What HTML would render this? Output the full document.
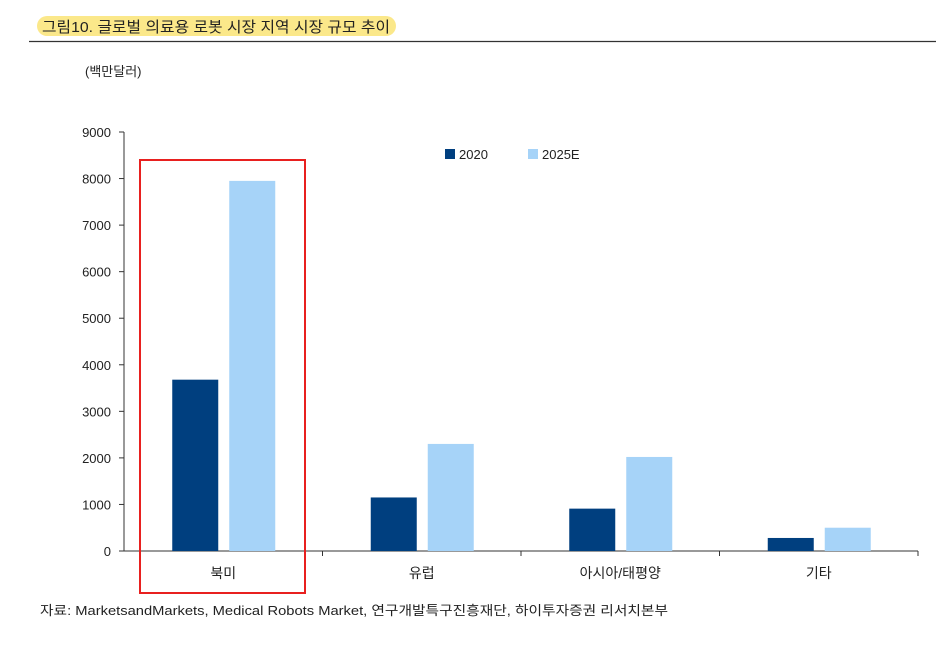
<!DOCTYPE html>
<html><head><meta charset="utf-8"><style>
body{margin:0;width:936px;height:646px;background:#fff;overflow:hidden;font-family:"Liberation Sans","Noto Sans CJK KR",sans-serif;}
</style></head><body>
<svg width="936" height="646" xmlns="http://www.w3.org/2000/svg" font-family="Liberation Sans, Noto Sans CJK KR, sans-serif">
<rect x="37" y="16" width="359" height="20" rx="10" fill="#fbe88a"/>
<text x="42" y="32" font-size="15" fill="#222" textLength="348" lengthAdjust="spacingAndGlyphs">그림10. 글로벌 의료용 로봇 시장 지역 시장 규모 추이</text>
<line x1="29" y1="41.5" x2="936" y2="41.5" stroke="#333" stroke-width="1.2"/>
<text x="85" y="76" font-size="13" fill="#222">(백만달러)</text>
<g id="axes"></g>
<g id="bars"></g>
<rect x="140" y="160" width="165" height="433" fill="none" stroke="#e8201f" stroke-width="2"/>
<rect x="445" y="149" width="10" height="10" fill="#003f7f"/>
<text x="459" y="159" font-size="13" fill="#222">2020</text>
<rect x="528" y="149" width="10" height="10" fill="#a6d3f8"/>
<text x="542" y="159" font-size="13" fill="#222">2025E</text>
<text x="40" y="615" font-size="13" fill="#222" textLength="628" lengthAdjust="spacingAndGlyphs">자료: MarketsandMarkets, Medical Robots Market, 연구개발특구진흥재단, 하이투자증권 리서치본부</text>
</svg>
<script>
const categories=["북미","유럽","아시아/태평양","기타"];
const series2020=[3680,1150,910,280];
const series2025=[7950,2300,2020,500];
const ticks=[0,1000,2000,3000,4000,5000,6000,7000,8000,9000];
const NS="http://www.w3.org/2000/svg";
const y0=551,yTop=132,maxV=9000,xL=124,xR=918;
const y=v=>y0-(v/maxV)*(y0-yTop);
const band=(xR-xL)/categories.length;
function mk(t,a,p){const e=document.createElementNS(NS,t);for(const k in a)e.setAttribute(k,a[k]);p.appendChild(e);return e;}
const ax=document.getElementById('axes'),bg=document.getElementById('bars');
let l=mk('line',{x1:xL,y1:yTop,x2:xL,y2:y0,stroke:'#333'},ax);


l=mk('line',{x1:xL,y1:y0,x2:xR,y2:y0,stroke:'#333'},ax);


ticks.forEach(t=>{
 const tk=mk('line',{x1:xL-5,y1:y(t),x2:xL,y2:y(t),stroke:'#333'},ax);
 
 
 const tx=mk('text',{x:xL-13,y:y(t)+5,'font-size':13,'text-anchor':'end',fill:'#222'},ax);
 tx.textContent=t;
 
 
});
for(let i=1;i<=categories.length;i++){
 const tk=mk('line',{x1:xL+band*i,y1:y0,x2:xL+band*i,y2:y0+5,stroke:'#333'},ax);
 
 
}
categories.forEach((c,i)=>{
 const cx=xL+band*(i+0.5);
 const b1=mk('rect',{x:cx-51,y:y(series2020[i]),width:46,height:y0-y(series2020[i]),fill:'#003f7f'},bg);
 
 
 const b2=mk('rect',{x:cx+6,y:y(series2025[i]),width:46,height:y0-y(series2025[i]),fill:'#a6d3f8'},bg);
 
 
 const tx=mk('text',{x:cx,y:578,'font-size':14,'text-anchor':'middle',fill:'#222'},bg);
 tx.textContent=c;
 
 
});
</script>
</body></html>
